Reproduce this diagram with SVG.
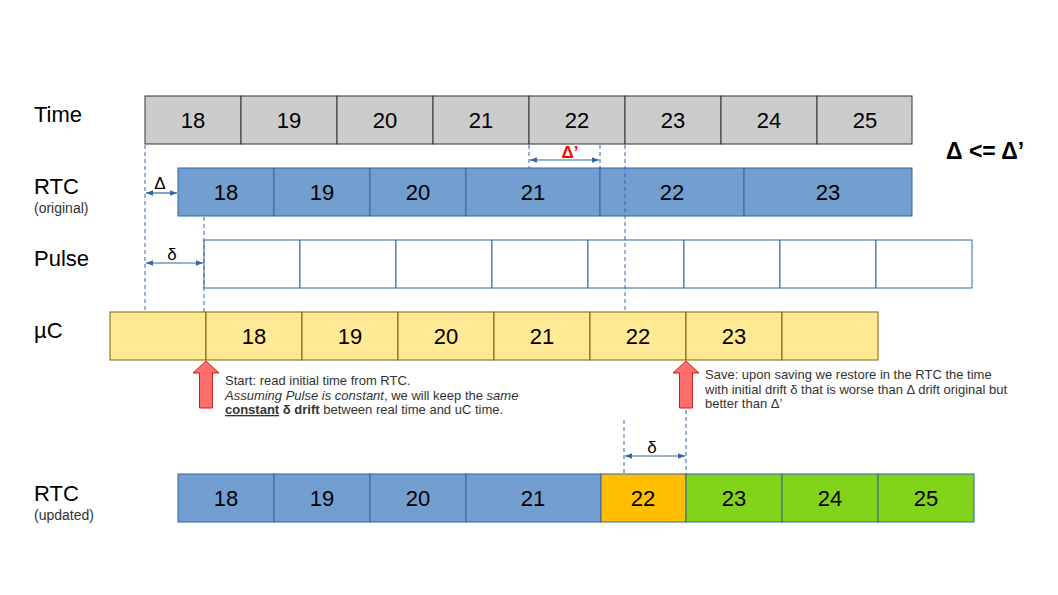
<svg xmlns="http://www.w3.org/2000/svg" width="1058" height="595" viewBox="0 0 1058 595">
<style>
text{font-family:"Liberation Sans",Arial,sans-serif;fill:#000}
.lbl{font-size:22px}
.sub{font-size:14px;fill:#333}
.num{font-size:22px;text-anchor:middle}
.gray{fill:#cccccc;stroke:#333333;stroke-width:1}
.blue{fill:#729fcf;stroke:#3465a4;stroke-width:1}
.pulse{fill:#ffffff;stroke:#3465a4;stroke-width:1}
.yel{fill:#ffe994;stroke:#7f6000;stroke-width:1}
.org{fill:#ffbf00;stroke:#3465a4;stroke-width:1}
.grn{fill:#81d41a;stroke:#3465a4;stroke-width:1}
.dash{stroke:#3465a4;stroke-width:1;stroke-dasharray:4 3;fill:none}
.dim{stroke:#3465a4;stroke-width:1.2;fill:none;marker-start:url(#ah);marker-end:url(#ah)}
.note{font-size:13px;fill:#333}
.dl{font-size:17px;text-anchor:middle}
.arrow{fill:#ff6d6d;stroke:#c9211e;stroke-width:1}
</style>
<defs>
<marker id="ah" viewBox="0 0 10 10" refX="10" refY="5" markerWidth="7" markerHeight="7" orient="auto-start-reverse" markerUnits="userSpaceOnUse"><path d="M0,1 L10,5 L0,9 z" fill="#3465a4"/></marker>
</defs>
<g id="labels">
<text class="lbl" x="34" y="122">Time</text>
<text class="lbl" x="34" y="194">RTC</text>
<text class="sub" x="34" y="213">(original)</text>
<text class="lbl" x="34" y="266">Pulse</text>
<text class="lbl" x="34" y="338">µC</text>
<text class="lbl" x="34" y="501">RTC</text>
<text class="sub" x="34" y="520">(updated)</text>
<text x="946" y="159" style="font-size:23px;font-weight:bold">Δ &lt;= Δ’</text>
</g>
<g id="time-row">
<rect class="gray" x="145" y="96" width="96" height="48"/><text class="num" x="193" y="128">18</text>
<rect class="gray" x="241" y="96" width="96" height="48"/><text class="num" x="289" y="128">19</text>
<rect class="gray" x="337" y="96" width="96" height="48"/><text class="num" x="385" y="128">20</text>
<rect class="gray" x="433" y="96" width="96" height="48"/><text class="num" x="481" y="128">21</text>
<rect class="gray" x="529" y="96" width="96" height="48"/><text class="num" x="577" y="128">22</text>
<rect class="gray" x="625" y="96" width="96" height="48"/><text class="num" x="673" y="128">23</text>
<rect class="gray" x="721" y="96" width="96" height="48"/><text class="num" x="769" y="128">24</text>
<rect class="gray" x="817" y="96" width="95" height="48"/><text class="num" x="865" y="128">25</text>
</g>
<g id="rtc-original">
<rect class="blue" x="178" y="168" width="96" height="48"/><text class="num" x="226" y="200">18</text>
<rect class="blue" x="274" y="168" width="96" height="48"/><text class="num" x="322" y="200">19</text>
<rect class="blue" x="370" y="168" width="96" height="48"/><text class="num" x="418" y="200">20</text>
<rect class="blue" x="466" y="168" width="134" height="48"/><text class="num" x="533" y="200">21</text>
<rect class="blue" x="600" y="168" width="144" height="48"/><text class="num" x="672" y="200">22</text>
<rect class="blue" x="744" y="168" width="168" height="48"/><text class="num" x="828" y="200">23</text>
</g>
<g id="pulse-row">
<rect class="pulse" x="204" y="240" width="96" height="48"/>
<rect class="pulse" x="300" y="240" width="96" height="48"/>
<rect class="pulse" x="396" y="240" width="96" height="48"/>
<rect class="pulse" x="492" y="240" width="96" height="48"/>
<rect class="pulse" x="588" y="240" width="96" height="48"/>
<rect class="pulse" x="684" y="240" width="96" height="48"/>
<rect class="pulse" x="780" y="240" width="96" height="48"/>
<rect class="pulse" x="876" y="240" width="96" height="48"/>
</g>
<g id="uc-row">
<rect class="yel" x="110" y="312" width="96" height="48"/>
<rect class="yel" x="206" y="312" width="96" height="48"/><text class="num" x="254" y="344">18</text>
<rect class="yel" x="302" y="312" width="96" height="48"/><text class="num" x="350" y="344">19</text>
<rect class="yel" x="398" y="312" width="96" height="48"/><text class="num" x="446" y="344">20</text>
<rect class="yel" x="494" y="312" width="96" height="48"/><text class="num" x="542" y="344">21</text>
<rect class="yel" x="590" y="312" width="96" height="48"/><text class="num" x="638" y="344">22</text>
<rect class="yel" x="686" y="312" width="96" height="48"/><text class="num" x="734" y="344">23</text>
<rect class="yel" x="782" y="312" width="96" height="48"/>
</g>
<g id="rtc-updated">
<rect class="blue" x="178" y="474" width="96" height="48"/><text class="num" x="226" y="506">18</text>
<rect class="blue" x="274" y="474" width="96" height="48"/><text class="num" x="322" y="506">19</text>
<rect class="blue" x="370" y="474" width="96" height="48"/><text class="num" x="418" y="506">20</text>
<rect class="blue" x="466" y="474" width="135" height="48"/><text class="num" x="533" y="506">21</text>
<rect class="org" x="601" y="474" width="85" height="48"/><text class="num" x="643" y="506">22</text>
<rect class="grn" x="686" y="474" width="96" height="48"/><text class="num" x="734" y="506">23</text>
<rect class="grn" x="782" y="474" width="96" height="48"/><text class="num" x="830" y="506">24</text>
<rect class="grn" x="878" y="474" width="96" height="48"/><text class="num" x="926" y="506">25</text>
</g>
<g id="connectors">
<line class="dash" x1="145" y1="145" x2="145" y2="312"/>
<line class="dash" x1="204" y1="217" x2="204" y2="312"/>
<line class="dash" x1="529" y1="145" x2="529" y2="168"/>
<line class="dash" x1="600" y1="145" x2="600" y2="168"/>
<line class="dash" x1="625" y1="145" x2="625" y2="312"/>
<line class="dash" x1="624" y1="420" x2="624" y2="474"/>
<line class="dash" x1="686" y1="410" x2="686" y2="474"/>
<line class="dim" x1="146" y1="193" x2="177" y2="193"/>
<line class="dim" x1="530" y1="160" x2="599" y2="160"/>
<line class="dim" x1="146" y1="263" x2="203" y2="263"/>
<line class="dim" x1="625" y1="456" x2="685" y2="456"/>
</g>
<g id="dim-labels">
<text class="dl" x="160" y="189">Δ</text>
<text class="dl" x="570" y="158" style="font-weight:bold;fill:#ff0000">Δ’</text>
<text class="dl" x="172" y="260">δ</text>
<text class="dl" x="652" y="453">δ</text>
</g>
<g id="start-arrow">
<path class="arrow" d="M206,361 L219,373 L212.5,373 L212.5,408 L199.5,408 L199.5,373 L193,373 Z"/>
</g>
<g id="save-arrow">
<path class="arrow" d="M686,361 L699,373 L692.5,373 L692.5,408 L679.5,408 L679.5,373 L673,373 Z"/>
</g>
<g id="start-note">
<text class="note" x="225" y="385">Start: read initial time from RTC.</text>
<text class="note" x="225" y="400"><tspan font-style="italic">Assuming Pulse is constant</tspan>, we will keep the <tspan font-style="italic">same</tspan></text>
<text class="note" x="225" y="414"><tspan font-weight="bold" text-decoration="underline">constant</tspan> <tspan font-weight="bold">δ drift</tspan> between real time and uC time.</text>
</g>
<g id="save-note">
<text class="note" x="705" y="379">Save: upon saving we restore in the RTC the time</text>
<text class="note" x="705" y="394">with initial drift δ that is worse than Δ drift original but</text>
<text class="note" x="705" y="408">better than Δ’</text>
</g>
</svg>
